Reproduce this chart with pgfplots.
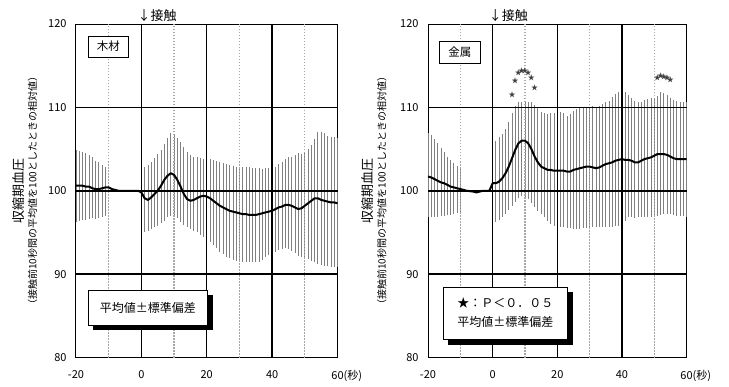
\documentclass[border=0pt]{standalone}
\usepackage{fontspec}
\setmainfont{Noto Sans CJK JP}
\usepackage{pgfplots}
\usepackage{pgfplotstable}
\pgfplotsset{compat=1.18}

\pgfplotstableread{
x m u l
-20 100.6 104.9 96.3
-19 100.6 104.8 96.4
-18 100.6 104.6 96.5
-17 100.5 104.5 96.5
-16 100.5 104.3 96.6
-15 100.3 104.1 96.7
-14 100.2 103.6 96.6
-13 100.2 103.4 96.7
-12 100.3 103.1 96.8
-11 100.4 102.8 97.0
-10 100.4 100.4 100.4
-9 100.2 100.2 100.2
-8 100.1 100.1 100.1
-7 100.0 100.0 100.0
-6 100.0 100.0 100.0
-5 100.0 100.0 100.0
-4 100.0 100.0 100.0
-3 100.0 100.0 100.0
-2 100.0 100.0 100.0
-1 100.0 100.0 100.0
0 99.8 103.0 94.8
1 99.1 102.9 95.0
2 98.9 103.1 95.2
3 99.2 103.4 95.4
4 99.6 103.9 95.6
5 100.0 104.4 95.8
6 100.6 104.9 96.1
7 101.3 105.6 96.4
8 101.8 106.3 96.8
9 102.1 106.9 97.0
10 101.9 106.8 97.0
11 101.3 106.3 96.7
12 100.5 105.8 96.3
13 99.6 105.2 95.9
14 99.0 104.7 95.6
15 98.8 104.3 95.4
16 98.9 104.1 95.2
17 99.1 104.0 95.0
18 99.3 103.9 94.7
19 99.4 103.8 94.5
20 99.3 103.8 94.3
21 99.1 103.8 93.9
22 98.8 103.7 93.5
23 98.5 103.6 93.1
24 98.2 103.4 92.7
25 98.0 103.3 92.4
26 97.8 103.2 92.1
27 97.6 103.1 91.9
28 97.5 103.0 91.7
29 97.4 102.9 91.6
30 97.3 102.9 91.5
31 97.2 102.8 91.5
32 97.2 102.9 91.4
33 97.1 102.8 91.4
34 97.1 102.7 91.4
35 97.1 102.7 91.4
36 97.2 102.7 91.5
37 97.3 102.6 91.7
38 97.4 102.7 92.0
39 97.5 102.7 92.3
40 97.6 102.8 92.5
41 97.8 102.9 92.7
42 98.0 103.2 92.9
43 98.1 103.5 93.0
44 98.3 103.8 93.1
45 98.3 104.1 93.0
46 98.2 104.1 92.8
47 98.0 104.3 92.5
48 97.8 104.5 92.2
49 97.9 104.4 92.0
50 98.2 104.6 91.9
51 98.5 105.0 91.8
52 98.8 105.5 91.6
53 99.1 106.2 91.4
54 99.1 107.1 91.2
55 98.9 107.1 91.1
56 98.8 106.9 91.0
57 98.7 106.6 91.0
58 98.6 106.4 90.9
59 98.6 106.5 90.9
60 98.5 106.3 90.9
}\wood

\pgfplotstableread{
x m u l
-20 101.7 106.9 96.8
-19 101.6 106.7 96.8
-18 101.4 106.2 96.9
-17 101.2 105.7 96.9
-16 101.0 105.1 97.0
-15 100.9 104.6 97.0
-14 100.7 104.0 97.1
-13 100.5 103.7 97.1
-12 100.4 103.3 97.2
-11 100.3 103.0 97.3
-10 100.2 102.7 97.4
-9 100.1 100.1 100.1
-8 100.0 100.0 100.0
-7 99.95 99.95 99.95
-6 99.9 99.9 99.9
-5 99.8 99.8 99.8
-4 99.9 99.9 99.9
-3 100.0 100.0 100.0
-2 100.0 100.0 100.0
-1 100.0 100.0 100.0
0 100.9 105.5 96.4
1 100.9 106.0 96.3
2 101.1 106.4 96.5
3 101.5 106.8 96.8
4 102.1 107.4 97.2
5 102.9 108.2 97.7
6 103.9 109.3 98.2
7 104.9 110.2 98.7
8 105.7 110.6 99.1
9 106.0 110.7 99.4
10 106.0 110.7 99.3
11 105.7 110.7 99.0
12 105.0 110.6 98.5
13 104.1 110.3 98.1
14 103.4 109.9 97.6
15 102.9 109.4 97.2
16 102.7 109.3 96.8
17 102.5 109.2 96.4
18 102.5 109.3 96.0
19 102.4 109.3 95.8
20 102.4 109.4 95.7
21 102.4 109.4 95.6
22 102.4 109.3 95.6
23 102.3 109.0 95.5
24 102.3 109.2 95.5
25 102.5 109.6 95.4
26 102.6 109.8 95.4
27 102.7 109.9 95.4
28 102.8 110.0 95.5
29 102.9 110.1 95.5
30 102.9 110.1 95.5
31 102.8 110.2 95.6
32 102.7 110.1 95.6
33 102.8 110.2 95.7
34 103.0 110.4 95.7
35 103.2 110.6 95.7
36 103.3 110.8 95.7
37 103.4 111.2 95.7
38 103.6 111.6 95.8
39 103.7 111.9 95.8
40 103.8 112.0 95.8
41 103.7 111.8 96.4
42 103.7 111.5 96.8
43 103.6 111.1 96.8
44 103.4 110.8 96.7
45 103.4 110.6 96.8
46 103.6 110.7 96.8
47 103.8 110.9 96.8
48 103.9 111.0 96.9
49 104.0 111.1 96.9
50 104.2 111.1 97.0
51 104.4 111.4 97.0
52 104.4 111.8 97.1
53 104.4 111.7 97.2
54 104.3 111.5 97.2
55 104.1 111.1 97.2
56 103.9 110.9 97.1
57 103.8 110.8 97.0
58 103.8 110.7 97.0
59 103.8 110.6 97.0
60 103.8 110.6 96.9
}\metal

\tikzset{
  dotgrid/.style={gray!70, line width=1.3pt, dash pattern=on 1.2pt off 1.8pt},
  solgrid/.style={black, line width=1.4pt},
}

\pgfplotsset{
  panel/.style={
    scale only axis, height=333.5pt,
    xmin=-20, xmax=60, ymin=80, ymax=120,
    xtick={-20,0,20,40,60}, xticklabels={-20,0,20,40,60\rlap{(秒)}},
    ytick={80,90,100,110,120},
    major tick length=0pt,
    axis line style={line width=1pt},
    tick label style={font=\fontsize{11}{13}\selectfont},
    /pgf/number format/assume math mode=true,
    yticklabel style={xshift=-6pt},
    xticklabel style={yshift=-9pt},
    clip=false,
    ylabel={{\fontsize{13}{15}\selectfont 収縮期血圧}\\[1pt]{\fontsize{10}{12}\selectfont （接触前10秒間の平均値を100としたときの相対値）}},
  },
  sdbars/.style={draw=none, mark=none, forget plot,
    error bars/.cd, y dir=both, y explicit, error mark=none,
    error bar style={black!50, line width=0.8pt}},
  meanline/.style={black, line width=2pt, mark=none, line join=round},
}

\newcommand{\gridlines}{%
  \draw[dotgrid] (axis cs:-10,80) -- (axis cs:-10,120);
  \draw[dotgrid] (axis cs:10,80) -- (axis cs:10,120);
  \draw[dotgrid] (axis cs:30,80) -- (axis cs:30,120);
  \draw[dotgrid] (axis cs:50,80) -- (axis cs:50,120);
  \draw[solgrid] (axis cs:0,80) -- (axis cs:0,120);
  \draw[solgrid] (axis cs:20,80) -- (axis cs:20,120);
  \draw[solgrid] (axis cs:40,80) -- (axis cs:40,120);
  \draw[black, line width=1.3pt] (axis cs:-20,90) -- (axis cs:60,90);
  \draw[black, line width=1.3pt] (axis cs:-20,110) -- (axis cs:60,110);
  \draw[black, line width=2.2pt] (axis cs:-20,100) -- (axis cs:60,100);
}

\begin{document}
\begin{tikzpicture}
\useasboundingbox (0,0) rectangle (729pt,386pt);

\begin{axis}[panel, width=261.5pt, at={(76pt,28.5pt)}, anchor=south west,
  every axis y label/.style={at={(axis description cs:-0.134,0.5)}, rotate=90, anchor=south, align=center}]
  \addplot[sdbars] table[x=x, y=m, y error plus expr=\thisrow{u}-\thisrow{m}, y error minus expr=\thisrow{m}-\thisrow{l}] {\wood};
  \gridlines
  \addplot[meanline] table[x=x, y=m] {\wood};
  \node[draw, line width=0.8pt, fill=white, anchor=north west, minimum width=40pt, minimum height=21pt, inner sep=0pt, font=\fontsize{11.5}{13}\selectfont] at (axis cs:-16.3,118.6) {木材};
  \fill[black] (axis cs:-14.8,87.5) rectangle (axis cs:21.8,83.3);
  \node[draw, line width=0.8pt, fill=white, anchor=north west, minimum width=119pt, minimum height=35pt, inner sep=0pt, font=\fontsize{12}{14}\selectfont] at (axis cs:-16.3,88.1) {平均値±標準偏差};
  \node[anchor=south west, inner sep=0pt, xshift=-4pt, yshift=2pt, font=\fontsize{13}{15}\selectfont] at (axis cs:0,120) {↓接触};
\end{axis}

\begin{axis}[panel, width=258.5pt, at={(428pt,28.5pt)}, anchor=south west,
  every axis y label/.style={at={(axis description cs:-0.147,0.5)}, rotate=90, anchor=south, align=center}]
  \addplot[sdbars] table[x=x, y=m, y error plus expr=\thisrow{u}-\thisrow{m}, y error minus expr=\thisrow{m}-\thisrow{l}] {\metal};
  \gridlines
  \addplot[meanline] table[x=x, y=m] {\metal};
  \addplot[only marks, mark=text, text mark={\fontsize{7}{7}\selectfont\color{black!75}★}] coordinates {
    (6,111.5) (7,113.2) (8,114.2) (9,114.4) (10,114.4) (11,114.2) (12,113.5) (13,112.3)
    (51,113.6) (52,113.8) (53,113.7) (54,113.5) (55,113.3)};
  \node[draw, line width=0.8pt, fill=white, anchor=north west, minimum width=41pt, minimum height=22pt, inner sep=0pt, font=\fontsize{11.5}{13}\selectfont] at (axis cs:-16.6,118.0) {金属};
  \fill[black] (axis cs:-13.8,87.9) rectangle (axis cs:25.0,81.5);
  \node[draw, line width=0.8pt, fill=white, anchor=north west, minimum width=124pt, minimum height=52pt, inner sep=0pt, align=left, font=\fontsize{12}{19}\selectfont] at (axis cs:-15.35,88.5) {★：Ｐ＜０．０５\\平均値±標準偏差};
  \node[anchor=south west, inner sep=0pt, xshift=-4pt, yshift=2pt, font=\fontsize{13}{15}\selectfont] at (axis cs:0,120) {↓接触};
\end{axis}
\end{tikzpicture}
\end{document}
